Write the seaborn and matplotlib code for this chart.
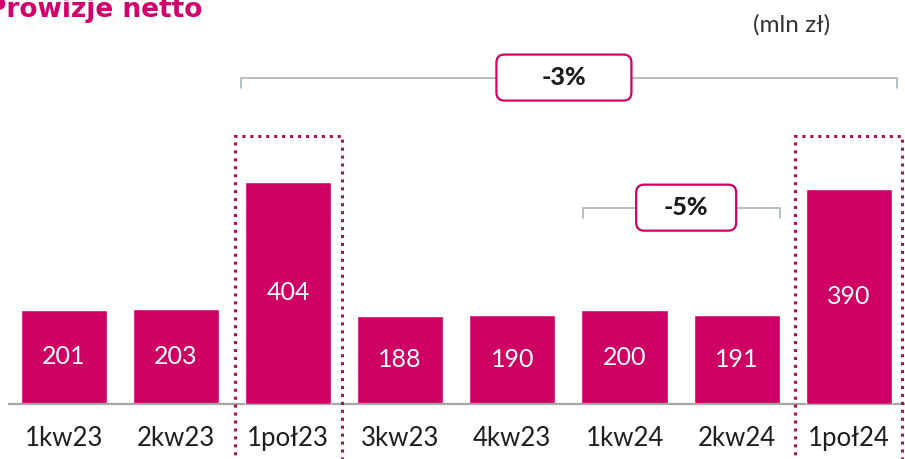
import matplotlib
matplotlib.use("Agg")
import matplotlib.pyplot as plt
import matplotlib.transforms as mtransforms
from matplotlib.patches import Rectangle, FancyBboxPatch
import pandas as pd
import seaborn as sns

# dane (mln zł)
okresy = ["1kw23", "2kw23", "1poł23", "3kw23", "4kw23", "1kw24", "2kw24", "1poł24"]
kwartaly = ["1kw23", "2kw23", "3kw23", "4kw23", "1kw24", "2kw24"]
wart_kw = [201, 203, 188, 190, 200, 191]
polrocza = ["1poł23", "1poł24"]
wart_pol = [404, 390]
zmiany = ["-3%", "-5%"]

df_kw = pd.DataFrame({"okres": kwartaly, "wartosc": wart_kw})
df_pol = pd.DataFrame({"okres": polrocza, "wartosc": wart_pol})

MAGENTA = "#CF0063"
DOTS = "#9E145E"
GREY_LINE = "#A9B1B9"

sns.set_style("white")
plt.rcParams["font.family"] = ["Lato", "DejaVu Sans"]

fig = plt.figure(figsize=(9.05, 4.59), dpi=100)
ax = fig.add_axes([0, 55 / 459, 1, 404 / 459])
ax2 = ax.twinx()

sns.barplot(data=df_kw, x="okres", y="wartosc", order=okresy, color=MAGENTA,
            width=0.767, saturation=1, ax=ax)
sns.barplot(data=df_pol, x="okres", y="wartosc", order=okresy, color=MAGENTA,
            width=0.767, saturation=1, ax=ax2)

for a in (ax, ax2):
    a.set_xlim(-0.568, 7.501)
    a.set_xlabel("")
    a.set_ylabel("")
    a.set_yticks([])
    for s in a.spines.values():
        s.set_visible(False)
ax.set_ylim(0, 863)
ax2.set_ylim(0, 734)

ax.tick_params(axis="x", length=0, pad=16, labelsize=18.5, labelcolor="#1E1E1E")

ax.bar_label(ax.containers[0], label_type="center", color="white", fontsize=18)
ax2.bar_label(ax2.containers[0], label_type="center", color="white", fontsize=18)

# linia bazowa
ax.hlines(0, -0.5, 7.501, color="#A6A6A6", lw=1.6, zorder=5, clip_on=False)

trans = mtransforms.blended_transform_factory(ax.transData, ax.transAxes)

# kropkowane ramki wokol polroczy
for p in polrocza:
    c = okresy.index(p)
    r = Rectangle((c - 0.477, -0.2), 0.955, 0.663 + 0.2, fill=False,
                  edgecolor=DOTS, lw=2.2, linestyle=(0, (1, 1.6)),
                  transform=trans, clip_on=False, zorder=6)
    ax2.add_patch(r)

# klamry z opisem zmian
klamry = [(1.578, 7.43, 0.808, 4.46, 135), (4.63, 6.39, 0.486, 5.55, 100)]
for (x0, x1, y, xc, w), txt in zip(klamry, zmiany):
    ax2.plot([x0, x0, x1, x1], [y - 0.026, y, y, y - 0.026], color=GREY_LINE,
             lw=1.2, transform=trans, clip_on=False, zorder=7)
    cx, cy = trans.transform((xc, y))
    box = FancyBboxPatch((cx - w / 2, cy - 23), w, 46,
                         boxstyle="round,pad=0,rounding_size=8",
                         facecolor="white", edgecolor=MAGENTA, lw=1.6,
                         transform=mtransforms.IdentityTransform(), zorder=8)
    fig.patches.append(box)
    fig.text(cx / 905, cy / 459, txt, ha="center", va="center",
             fontsize=18, fontweight="black", color="#1A1A1A", zorder=9)

fig.text(-13 / 905, 1 - 17 / 459, "Prowizje netto", ha="left", va="baseline",
         fontsize=19, fontweight="bold", color="#D2006A",
         family=["DejaVu Sans"])
fig.text(792 / 905, 1 - 25 / 459, "(mln zł)", ha="center", va="center",
         fontsize=17.5, color="#333333")

fig.savefig("out.png", dpi=100)
